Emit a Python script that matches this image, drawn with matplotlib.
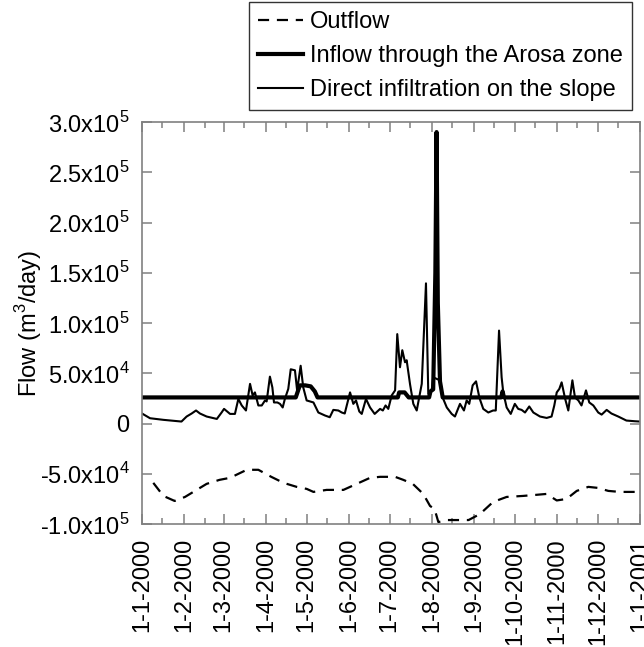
import numpy as np
import pandas as pd
import matplotlib
matplotlib.use("Agg")
import matplotlib.pyplot as plt
import matplotlib.dates as mdates
from matplotlib.ticker import FuncFormatter, MultipleLocator

plt.rcParams['font.family'] = ['Liberation Sans', 'DejaVu Sans']
plt.rcParams['mathtext.fontset'] = 'custom'
plt.rcParams['mathtext.rm'] = 'Liberation Sans'

start = pd.Timestamp('2000-01-01')

# Outflow (negative, m3/day), day of year -> value
outflow_days = [8.3, 15.7, 24, 31.6, 47.5, 57, 64.7, 77, 85.5, 95, 104, 113.7, 121, 126,
                135.7, 148, 157.8, 167.6, 175, 186, 192, 199, 206.7, 211.7, 215, 217.8,
                224, 231, 240, 248.4, 258, 268, 280, 289, 297.4, 304.8, 312, 319.5, 328,
                335, 342.7, 351, 361, 366]
outflow_vals = [-5.9e4, -7.2e4, -7.7e4, -7.3e4, -6.0e4, -5.6e4, -5.4e4, -4.6e4, -4.6e4,
                -5.3e4, -5.9e4, -6.3e4, -6.5e4, -6.8e4, -6.6e4, -6.6e4, -6.0e4, -5.4e4,
                -5.3e4, -5.3e4, -5.6e4, -6.0e4, -7.0e4, -8.2e4, -8.5e4, -9.8e4, -9.6e4,
                -9.6e4, -9.6e4, -9.0e4, -7.8e4, -7.3e4, -7.2e4, -7.1e4, -7.0e4, -7.65e4,
                -7.5e4, -6.7e4, -6.3e4, -6.4e4, -6.7e4, -6.8e4, -6.8e4, -6.8e4]

# Inflow through the Arosa zone
inflow_days = [0, 113, 114.5, 116, 120, 124, 127, 129, 188, 189, 193, 196, 211, 212,
               214, 215.6, 216.5, 217.4, 219, 221, 264, 265, 266, 366]
inflow_vals = [2.6e4, 2.6e4, 3.2e4, 3.8e4, 3.8e4, 3.7e4, 3.2e4, 2.6e4, 2.6e4, 3.1e4,
               3.1e4, 2.6e4, 2.6e4, 3.2e4, 3.4e4, 1.5e5, 2.9e5, 1.2e5, 4.2e4, 2.6e4,
               2.6e4, 3.2e4, 2.6e4, 2.6e4]

# Direct infiltration on the slope
infil_days = [0, 5.9, 15.7, 29, 32.8, 36.5, 39.7, 42.6, 47.5, 55, 58.6, 60.3, 64.7, 68.3,
              70.8, 73.3, 76.4, 79.4, 81.3, 83, 85.5, 88, 90.4, 91.6, 94, 95.8, 97, 99.5,
              101.4, 103.4, 105, 107.5, 109.3, 112.4, 114, 116.6, 118.5, 121, 126, 129.6,
              134.5, 138, 140.6, 144.3, 146.8, 149, 152.9, 155.3, 157.3, 159.7, 161.5,
              164.6, 167.6, 171, 175, 177, 179, 181, 183.5, 186, 187.6, 189.6, 191.3,
              193.3, 194.5, 197, 199.4, 201.9, 205.6, 208.7, 210.4, 212.9, 214, 219,
              221.4, 224, 227.6, 230, 233.7, 236.6, 238.6, 240.5, 243, 245.5, 248, 250.8,
              254.5, 258, 260, 262.4, 264.3, 265.5, 268, 271, 274, 276.5, 279, 281.5,
              284.6, 287.6, 292.5, 297.4, 301, 303, 304.8, 306.7, 308.4, 311, 313.3,
              316.3, 318.2, 320.7, 323, 326.3, 328.7, 331.7, 335.3, 337.8, 341.5, 345,
              350, 356, 362.3, 366]
infil_vals = [1.0e4, 5.3e3, 3.7e3, 2.0e3, 7e3, 1.0e4, 1.3e4, 1.0e4, 7e3, 4.6e3, 1.12e4,
              1.46e4, 9.6e3, 9.6e3, 2.45e4, 1.8e4, 1.3e4, 3.95e4, 2.8e4, 3.1e4, 1.8e4,
              1.8e4, 2.3e4, 2.2e4, 4.67e4, 3.6e4, 2.1e4, 2.1e4, 1.96e4, 1.6e4, 2.45e4,
              3.45e4, 5.4e4, 5.3e4, 3.3e4, 5.75e4, 3.6e4, 2.3e4, 2.1e4, 1.1e4, 8e3, 6.3e3,
              1.36e4, 1.3e4, 1.1e4, 1.0e4, 3.1e4, 1.96e4, 2.3e4, 1.2e4, 9.6e3, 2.45e4,
              1.6e4, 9.6e3, 1.46e4, 1.3e4, 1.8e4, 1.46e4, 2.8e4, 3.3e4, 8.9e4, 5.6e4,
              7.3e4, 6.1e4, 6.3e4, 3.9e4, 1.96e4, 1.3e4, 3.95e4, 1.395e5, 2.95e4, 3.3e4,
              4.6e4, 4.3e4, 2.45e4, 1.6e4, 9.6e3, 7e3, 1.96e4, 1.3e4, 2.3e4, 1.96e4,
              3.8e4, 4.2e4, 2.55e4, 1.46e4, 1.1e4, 1.3e4, 1.3e4, 9.25e4, 4.6e4, 3.1e4,
              1.6e4, 9.6e3, 1.96e4, 1.46e4, 1.36e4, 1.1e4, 1.7e4, 1.1e4, 7e3, 5.6e3, 7e3,
              1.8e4, 3.1e4, 3.45e4, 4.1e4, 2.45e4, 1.3e4, 4.3e4, 2.6e4, 2.3e4, 1.8e4,
              3.3e4, 2.1e4, 1.8e4, 1.1e4, 8.9e3, 1.36e4, 1.0e4, 7e3, 3e3, 2.3e3, 2.0e3]


def to_dates(days):
    return start + pd.to_timedelta(np.array(days), unit='D')


fs = 17

fig = plt.figure(figsize=(6.44, 6.47), dpi=100)
ax = fig.add_axes([0.2205, 0.190, 0.7733, 0.6214])

ax.plot(to_dates(outflow_days), outflow_vals, color='black', lw=1.6,
        linestyle=(0, (5, 3.5)), label='Outflow')
ax.plot(to_dates(inflow_days), inflow_vals, color='black', lw=3.0,
        label='Inflow through the Arosa zone')
ax.plot(to_dates(infil_days), infil_vals, color='black', lw=1.5,
        label='Direct infiltration on the slope')

ax.set_xlim(start, pd.Timestamp('2001-01-01'))
ax.set_ylim(-1e5, 3e5)

ax.xaxis.set_major_locator(mdates.MonthLocator())
ax.xaxis.set_minor_locator(mdates.MonthLocator(bymonthday=16))
ax.xaxis.set_major_formatter(FuncFormatter(
    lambda x, pos: (lambda d: f"{d.day}-{d.month}-{d.year}")(mdates.num2date(x))))
ax.yaxis.set_major_locator(MultipleLocator(5e4))


def sci_fmt(v, pos):
    if abs(v) < 1:
        return '0'
    e = int(np.floor(np.log10(abs(v))))
    m = v / 10 ** e
    return f"{m:.1f}x10$^{{{e}}}$"


ax.yaxis.set_major_formatter(FuncFormatter(sci_fmt))

for lbl in ax.get_xticklabels():
    lbl.set_rotation(90)

ax.tick_params(which='both', direction='in', top=True, right=True,
               color='#808080', labelsize=fs)
ax.tick_params(axis='x', pad=10)
ax.tick_params(axis='y', pad=9)
ax.tick_params(which='major', length=7, width=1.1)
ax.tick_params(which='minor', length=4, width=1.1)
for s in ax.spines.values():
    s.set_color('#808080')
    s.set_linewidth(1.2)

ax.set_ylabel('Flow (m$^3$/day)', fontsize=fs, labelpad=-3)

leg = fig.legend(loc='upper right', bbox_to_anchor=(0.982, 0.997), fontsize=fs,
                 frameon=True, fancybox=False, handlelength=1.9, handletextpad=0.3,
                 borderpad=0.4, labelspacing=0.5, borderaxespad=0)
leg.get_frame().set_edgecolor('black')
leg.get_frame().set_linewidth(1.0)

fig.savefig('out.png', dpi=100)
